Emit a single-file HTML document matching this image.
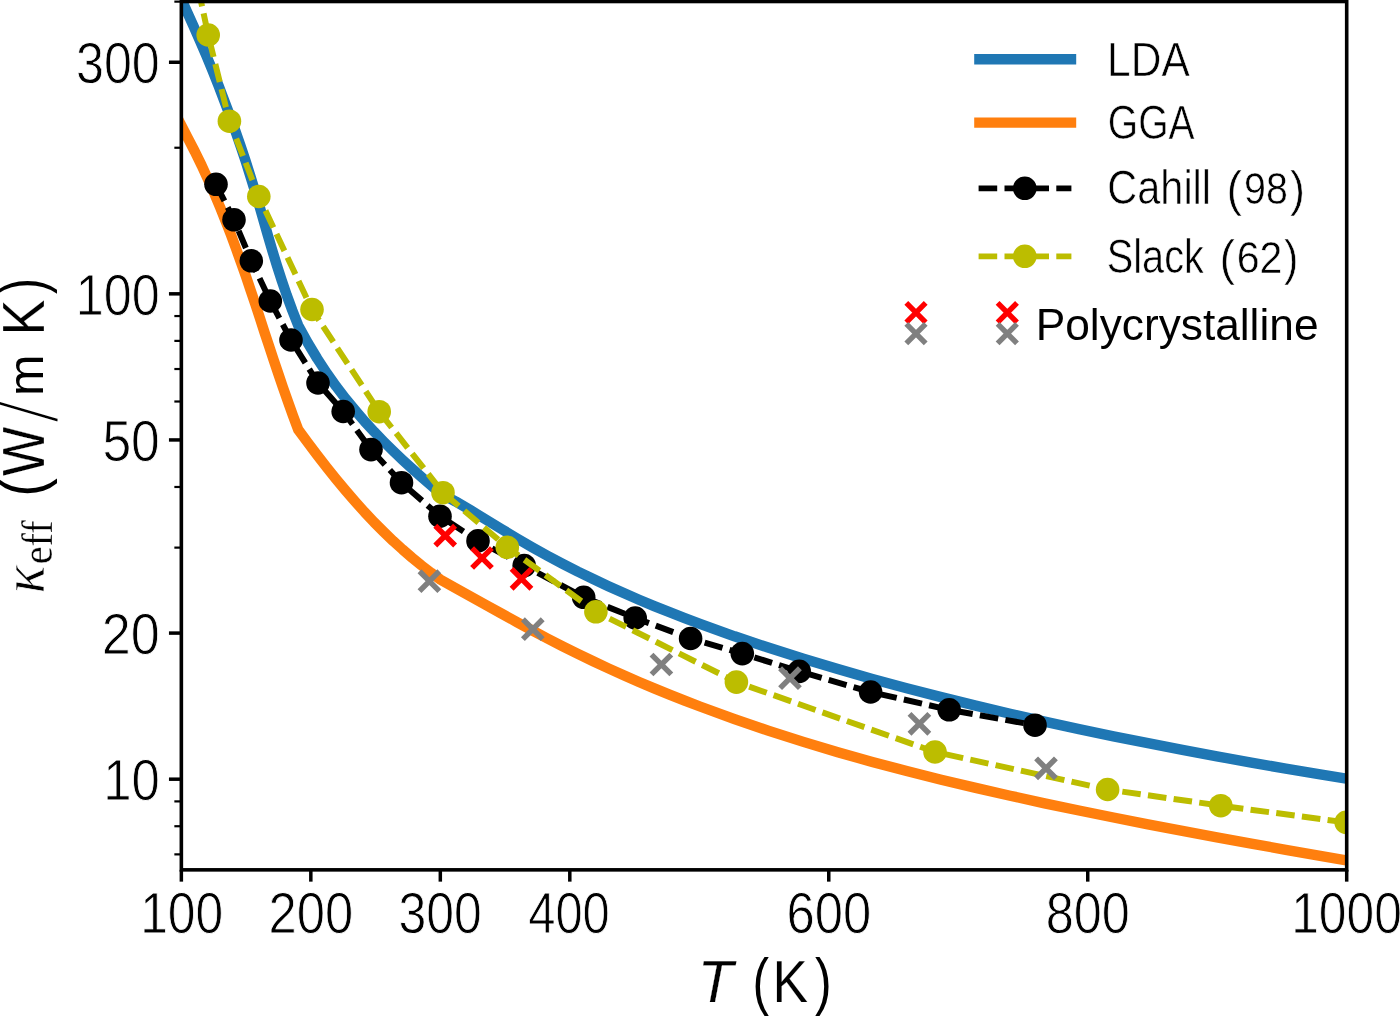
<!DOCTYPE html>
<html lang="en"><head><meta charset="utf-8"><title>Thermal conductivity vs temperature</title>
<style>html,body{margin:0;padding:0;background:#fff}body{width:1400px;height:1016px;overflow:hidden}svg{display:block;will-change:transform}text{font-family:"Liberation Sans",sans-serif;fill:#000}.ser{font-family:"Liberation Serif",serif}</style></head><body>
<svg width="1400" height="1016" viewBox="0 0 1400 1016">
<rect width="1400" height="1016" fill="#fff"/>
<defs><clipPath id="ax"><rect x="181.35" y="1.50" width="1165.35" height="868.35"/></clipPath></defs>
<g clip-path="url(#ax)" fill="none" stroke-linejoin="round">
<polyline points="173.7,-19.0 180.0,-4.0 186.6,10.9 193.4,25.9 200.0,40.9 206.4,55.8 212.6,70.8 218.6,85.8 224.3,100.8 229.9,115.7 235.3,130.7 240.5,145.7 245.5,160.7 250.2,175.6 254.8,190.6 259.3,205.6 263.6,220.6 267.9,235.5 272.3,250.5 276.9,265.5 281.7,280.4 286.8,295.4 292.3,310.4 298.2,325.4 307.7,342.7 317.2,358.5 326.7,373.0 336.2,386.4 345.7,398.8 355.2,410.4 364.6,421.4 374.1,431.7 383.6,441.5 393.1,450.9 402.6,459.9 412.1,468.6 421.6,477.1 431.1,485.4 440.6,493.4 455.8,501.6 471.1,510.6 486.4,519.9 501.6,529.1 516.9,538.4 532.1,547.2 547.4,555.7 562.7,563.8 577.9,571.6 593.2,579.0 608.4,586.2 623.7,593.1 639.0,599.7 654.2,606.1 669.5,612.2 684.7,618.2 700.0,623.9 734.5,636.3 768.9,647.8 803.4,658.7 837.8,669.1 872.3,678.9 906.7,688.2 941.2,697.1 975.7,705.6 1010.1,713.7 1044.6,721.6 1079.0,729.1 1113.5,736.3 1148.0,743.2 1182.4,749.9 1216.9,756.3 1251.3,762.6 1285.8,768.6 1320.2,774.4 1354.7,780.1" stroke="#1f77b4" stroke-width="10.4"/>
<polyline points="173.7,109.7 180.4,123.7 187.6,137.6 194.8,151.5 201.6,165.4 208.0,179.3 214.2,193.2 220.0,207.1 225.6,221.0 231.0,234.9 236.1,248.8 241.1,262.7 246.0,276.6 250.7,290.5 255.4,304.4 260.0,318.3 264.5,332.3 269.1,346.2 273.7,360.1 278.4,374.0 283.1,387.9 288.0,401.8 293.0,415.7 298.2,429.6 307.7,442.5 317.2,455.1 326.7,467.4 336.2,479.2 345.7,490.6 355.2,501.6 364.6,512.1 374.1,522.2 383.6,531.7 393.1,540.9 402.6,549.5 412.1,557.7 421.6,565.5 431.1,572.8 440.6,579.7 455.8,588.2 471.1,596.7 486.4,605.2 501.6,613.6 516.9,622.1 532.1,630.4 547.4,638.5 562.7,646.3 577.9,653.9 593.2,661.3 608.4,668.4 623.7,675.3 639.0,682.0 654.2,688.4 669.5,694.6 684.7,700.7 700.0,706.5 734.5,719.1 768.9,730.9 803.4,741.9 837.8,752.2 872.3,761.9 906.7,771.0 941.2,779.7 975.7,787.9 1010.1,795.7 1044.6,803.3 1079.0,810.5 1113.5,817.5 1148.0,824.3 1182.4,830.9 1216.9,837.4 1251.3,843.6 1285.8,849.8 1320.2,855.8 1354.7,861.8" stroke="#ff7f0e" stroke-width="10.4"/>
<polyline points="216.0,184.3 234.0,219.8 251.3,260.8 270.3,301.0 291.0,340.0 318.0,383.0 343.2,411.5 371.0,449.6 401.5,482.7 440.0,516.2 478.0,540.9 524.2,565.6 583.7,597.3 635.2,618.0 690.6,638.5 742.3,653.6 799.2,671.4 870.6,692.0 949.2,709.8 1035.0,725.2" stroke="#000" stroke-width="6.0" stroke-dasharray="18.6 7.3"/>
<circle cx="216.0" cy="184.3" r="11.8" fill="#000"/>
<circle cx="234.0" cy="219.8" r="11.8" fill="#000"/>
<circle cx="251.3" cy="260.8" r="11.8" fill="#000"/>
<circle cx="270.3" cy="301.0" r="11.8" fill="#000"/>
<circle cx="291.0" cy="340.0" r="11.8" fill="#000"/>
<circle cx="318.0" cy="383.0" r="11.8" fill="#000"/>
<circle cx="343.2" cy="411.5" r="11.8" fill="#000"/>
<circle cx="371.0" cy="449.6" r="11.8" fill="#000"/>
<circle cx="401.5" cy="482.7" r="11.8" fill="#000"/>
<circle cx="440.0" cy="516.2" r="11.8" fill="#000"/>
<circle cx="478.0" cy="540.9" r="11.8" fill="#000"/>
<circle cx="524.2" cy="565.6" r="11.8" fill="#000"/>
<circle cx="583.7" cy="597.3" r="11.8" fill="#000"/>
<circle cx="635.2" cy="618.0" r="11.8" fill="#000"/>
<circle cx="690.6" cy="638.5" r="11.8" fill="#000"/>
<circle cx="742.3" cy="653.6" r="11.8" fill="#000"/>
<circle cx="799.2" cy="671.4" r="11.8" fill="#000"/>
<circle cx="870.6" cy="692.0" r="11.8" fill="#000"/>
<circle cx="949.2" cy="709.8" r="11.8" fill="#000"/>
<circle cx="1035.0" cy="725.2" r="11.8" fill="#000"/>
<polyline points="196.0,-22.0 208.2,35.0 229.4,121.2 258.8,196.5 312.0,309.5 379.2,411.7 443.0,492.7 507.3,547.3 595.9,611.8 736.4,682.1 935.0,752.0 1107.6,789.5 1220.8,805.7 1346.2,822.4" stroke="#bcbd00" stroke-width="6.0" stroke-dasharray="18.6 7.3" stroke-dashoffset="15.5"/>
<circle cx="196.0" cy="-22.0" r="11.8" fill="#bcbd00"/>
<circle cx="208.2" cy="35.0" r="11.8" fill="#bcbd00"/>
<circle cx="229.4" cy="121.2" r="11.8" fill="#bcbd00"/>
<circle cx="258.8" cy="196.5" r="11.8" fill="#bcbd00"/>
<circle cx="312.0" cy="309.5" r="11.8" fill="#bcbd00"/>
<circle cx="379.2" cy="411.7" r="11.8" fill="#bcbd00"/>
<circle cx="443.0" cy="492.7" r="11.8" fill="#bcbd00"/>
<circle cx="507.3" cy="547.3" r="11.8" fill="#bcbd00"/>
<circle cx="595.9" cy="611.8" r="11.8" fill="#bcbd00"/>
<circle cx="736.4" cy="682.1" r="11.8" fill="#bcbd00"/>
<circle cx="935.0" cy="752.0" r="11.8" fill="#bcbd00"/>
<circle cx="1107.6" cy="789.5" r="11.8" fill="#bcbd00"/>
<circle cx="1220.8" cy="805.7" r="11.8" fill="#bcbd00"/>
<circle cx="1346.2" cy="822.4" r="11.8" fill="#bcbd00"/>
<path d="M435.3 525.7L455.1 545.5M435.3 545.5L455.1 525.7" stroke="#ff0000" stroke-width="5.5" fill="none"/>
<path d="M472.1 548.1L491.9 567.9M472.1 567.9L491.9 548.1" stroke="#ff0000" stroke-width="5.5" fill="none"/>
<path d="M511.6 568.9L531.4 588.7M511.6 588.7L531.4 568.9" stroke="#ff0000" stroke-width="5.5" fill="none"/>
<path d="M419.5 571.3L439.3 591.1M419.5 591.1L439.3 571.3" stroke="#808080" stroke-width="5.5" fill="none"/>
<path d="M522.9 619.3L542.7 639.1M522.9 639.1L542.7 619.3" stroke="#808080" stroke-width="5.5" fill="none"/>
<path d="M651.5 654.6L671.3 674.4M651.5 674.4L671.3 654.6" stroke="#808080" stroke-width="5.5" fill="none"/>
<path d="M780.1 668.3L799.9 688.1M780.1 688.1L799.9 668.3" stroke="#808080" stroke-width="5.5" fill="none"/>
<path d="M909.5 713.9L929.3 733.7M909.5 733.7L929.3 713.9" stroke="#808080" stroke-width="5.5" fill="none"/>
<path d="M1036.1 758.4L1055.9 778.2M1036.1 778.2L1055.9 758.4" stroke="#808080" stroke-width="5.5" fill="none"/>
</g>
<g stroke="#000" fill="none">
<line x1="181.35" y1="869.85" x2="181.35" y2="881.65" stroke-width="3.5"/>
<line x1="310.83" y1="869.85" x2="310.83" y2="881.65" stroke-width="3.5"/>
<line x1="440.32" y1="869.85" x2="440.32" y2="881.65" stroke-width="3.5"/>
<line x1="569.80" y1="869.85" x2="569.80" y2="881.65" stroke-width="3.5"/>
<line x1="828.77" y1="869.85" x2="828.77" y2="881.65" stroke-width="3.5"/>
<line x1="1087.73" y1="869.85" x2="1087.73" y2="881.65" stroke-width="3.5"/>
<line x1="1346.70" y1="869.85" x2="1346.70" y2="881.65" stroke-width="3.5"/>
<line x1="181.35" y1="62.27" x2="168.95" y2="62.27" stroke-width="3.5"/>
<line x1="181.35" y1="293.84" x2="168.95" y2="293.84" stroke-width="3.5"/>
<line x1="181.35" y1="439.94" x2="168.95" y2="439.94" stroke-width="3.5"/>
<line x1="181.35" y1="633.09" x2="168.95" y2="633.09" stroke-width="3.5"/>
<line x1="181.35" y1="779.19" x2="168.95" y2="779.19" stroke-width="3.5"/>
<line x1="181.35" y1="1.63" x2="174.35" y2="1.63" stroke-width="2.2"/>
<line x1="181.35" y1="147.74" x2="174.35" y2="147.74" stroke-width="2.2"/>
<line x1="181.35" y1="316.05" x2="174.35" y2="316.05" stroke-width="2.2"/>
<line x1="181.35" y1="340.88" x2="174.35" y2="340.88" stroke-width="2.2"/>
<line x1="181.35" y1="369.02" x2="174.35" y2="369.02" stroke-width="2.2"/>
<line x1="181.35" y1="401.51" x2="174.35" y2="401.51" stroke-width="2.2"/>
<line x1="181.35" y1="486.98" x2="174.35" y2="486.98" stroke-width="2.2"/>
<line x1="181.35" y1="547.62" x2="174.35" y2="547.62" stroke-width="2.2"/>
<line x1="181.35" y1="801.40" x2="174.35" y2="801.40" stroke-width="2.2"/>
<line x1="181.35" y1="826.23" x2="174.35" y2="826.23" stroke-width="2.2"/>
<line x1="181.35" y1="854.37" x2="174.35" y2="854.37" stroke-width="2.2"/>
<rect x="181.35" y="1.50" width="1165.35" height="868.35" stroke-width="3.6"/>
</g>
<g fill="none">
<line x1="974.2" y1="59.2" x2="1076.2" y2="59.2" stroke="#1f77b4" stroke-width="10.4"/>
<line x1="974.2" y1="122.6" x2="1076.2" y2="122.6" stroke="#ff7f0e" stroke-width="10.4"/>
<line x1="978.6" y1="188.3" x2="1071.4" y2="188.3" stroke="#000" stroke-width="5.7" stroke-dasharray="18.6 7.3"/>
<circle cx="1024.8" cy="188.3" r="11.8" fill="#000"/>
<line x1="978.6" y1="256.3" x2="1071.4" y2="256.3" stroke="#bcbd00" stroke-width="5.7" stroke-dasharray="18.6 7.3"/>
<circle cx="1024.8" cy="256.3" r="11.8" fill="#bcbd00"/>
<path d="M906.3 302.9L925.7 322.3M906.3 322.3L925.7 302.9" stroke="#ff0000" stroke-width="5.4" fill="none"/>
<path d="M997.6 302.9L1017.0 322.3M997.6 322.3L1017.0 302.9" stroke="#ff0000" stroke-width="5.4" fill="none"/>
<path d="M906.3 323.9L925.7 343.3M906.3 343.3L925.7 323.9" stroke="#808080" stroke-width="5.4" fill="none"/>
<path d="M997.6 323.9L1017.0 343.3M997.6 343.3L1017.0 323.9" stroke="#808080" stroke-width="5.4" fill="none"/>
</g>
<g>
<text><tspan x="140.16" y="933.25" font-size="58.29" textLength="83.09" lengthAdjust="spacingAndGlyphs" stroke="#fff" stroke-width="0.90">100</tspan></text>
<text><tspan x="268.61" y="933.25" font-size="58.29" textLength="84.67" lengthAdjust="spacingAndGlyphs" stroke="#fff" stroke-width="0.90">200</tspan></text>
<text><tspan x="398.55" y="933.25" font-size="58.29" textLength="83.30" lengthAdjust="spacingAndGlyphs" stroke="#fff" stroke-width="0.90">300</tspan></text>
<text><tspan x="528.27" y="933.25" font-size="58.29" textLength="81.54" lengthAdjust="spacingAndGlyphs" stroke="#fff" stroke-width="0.90">400</tspan></text>
<text><tspan x="786.61" y="933.25" font-size="58.29" textLength="84.67" lengthAdjust="spacingAndGlyphs" stroke="#fff" stroke-width="0.90">600</tspan></text>
<text><tspan x="1045.73" y="933.25" font-size="58.29" textLength="84.14" lengthAdjust="spacingAndGlyphs" stroke="#fff" stroke-width="0.90">800</tspan></text>
<text><tspan x="1291.17" y="933.25" font-size="58.29" textLength="110.68" lengthAdjust="spacingAndGlyphs" stroke="#fff" stroke-width="0.90">1000</tspan></text>
<text><tspan x="76.04" y="83.42" font-size="58.29" textLength="83.72" lengthAdjust="spacingAndGlyphs" stroke="#fff" stroke-width="0.90">300</tspan></text>
<text><tspan x="75.83" y="314.99" font-size="58.29" textLength="83.94" lengthAdjust="spacingAndGlyphs" stroke="#fff" stroke-width="0.90">100</tspan></text>
<text><tspan x="102.38" y="461.09" font-size="58.29" textLength="57.43" lengthAdjust="spacingAndGlyphs" stroke="#fff" stroke-width="0.90">50</tspan></text>
<text><tspan x="101.84" y="654.24" font-size="58.29" textLength="57.99" lengthAdjust="spacingAndGlyphs" stroke="#fff" stroke-width="0.90">20</tspan></text>
<text><tspan x="103.19" y="800.34" font-size="58.29" textLength="56.60" lengthAdjust="spacingAndGlyphs" stroke="#fff" stroke-width="0.90">10</tspan></text>
<text><tspan x="1107.10" y="75.70" font-size="47.86" textLength="82.67" lengthAdjust="spacingAndGlyphs" stroke="#fff" stroke-width="0.60">LDA</tspan></text>
<text><tspan x="1107.85" y="138.60" font-size="47.86" textLength="86.73" lengthAdjust="spacingAndGlyphs" stroke="#fff" stroke-width="0.60">GGA</tspan></text>
<text><tspan x="1107.22" y="204.00" font-size="47.86" textLength="103.86" lengthAdjust="spacingAndGlyphs" stroke="#fff" stroke-width="0.60">Cahill</tspan> <tspan x="1226.50" y="205.50" font-size="49.36" textLength="15.54" lengthAdjust="spacingAndGlyphs" stroke="#fff" stroke-width="0.60">(</tspan><tspan x="1244.07" y="203.95" font-size="43.71" textLength="43.80" lengthAdjust="spacingAndGlyphs" stroke="#fff" stroke-width="0.50">98</tspan><tspan x="1290.10" y="205.50" font-size="49.36" textLength="14.99" lengthAdjust="spacingAndGlyphs" stroke="#fff" stroke-width="0.60">)</tspan></text>
<text><tspan x="1106.81" y="273.10" font-size="47.86" textLength="96.99" lengthAdjust="spacingAndGlyphs" stroke="#fff" stroke-width="0.60">Slack</tspan> <tspan x="1219.60" y="274.60" font-size="49.36" textLength="15.54" lengthAdjust="spacingAndGlyphs" stroke="#fff" stroke-width="0.60">(</tspan><tspan x="1236.70" y="273.05" font-size="43.71" textLength="45.65" lengthAdjust="spacingAndGlyphs" stroke="#fff" stroke-width="0.50">62</tspan><tspan x="1284.10" y="274.60" font-size="49.36" textLength="14.39" lengthAdjust="spacingAndGlyphs" stroke="#fff" stroke-width="0.60">)</tspan></text>
<text><tspan x="1035.76" y="340.20" font-size="44.30" textLength="282.74" lengthAdjust="spacingAndGlyphs">Polycrystalline</tspan></text>
<text><tspan x="697.63" y="1002.12" font-size="59.96" textLength="35.46" lengthAdjust="spacingAndGlyphs" font-style="italic" stroke="#fff" stroke-width="0.25">T</tspan> <tspan x="752.62" y="1002.60" font-size="63.00" textLength="16.53" lengthAdjust="spacingAndGlyphs">(</tspan><tspan x="772.62" y="1002.12" font-size="59.96" textLength="35.48" lengthAdjust="spacingAndGlyphs" stroke="#fff" stroke-width="0.25">K</tspan><tspan x="815.00" y="1002.60" font-size="63.00" textLength="16.65" lengthAdjust="spacingAndGlyphs">)</tspan></text>
</g>
<text transform="translate(43.4,594) rotate(-90)"><tspan x="0.44" y="0.40" font-size="61.14" textLength="28.08" lengthAdjust="spacingAndGlyphs" class="ser" font-style="italic" stroke="#fff" stroke-width="0.80">κ</tspan><tspan x="29.64" y="8.75" font-size="43.93" textLength="43.93" lengthAdjust="spacingAndGlyphs" class="ser" stroke="#fff" stroke-width="0.30">eff</tspan> <tspan x="97.17" y="0.60" font-size="63.00" textLength="18.50" lengthAdjust="spacingAndGlyphs">(</tspan><tspan x="117.88" y="0.12" font-size="59.96" textLength="49.13" lengthAdjust="spacingAndGlyphs" stroke="#fff" stroke-width="0.25">W</tspan><tspan x="169.65" y="15.55" font-size="82.57" textLength="25.00" lengthAdjust="spacingAndGlyphs" stroke="#fff" stroke-width="3.90">/</tspan><tspan x="197.91" y="0.00" font-size="50.00" textLength="41.53" lengthAdjust="spacingAndGlyphs">m</tspan> <tspan x="258.46" y="0.12" font-size="59.96" textLength="35.94" lengthAdjust="spacingAndGlyphs" stroke="#fff" stroke-width="0.25">K</tspan><tspan x="300.10" y="0.60" font-size="63.00" textLength="15.82" lengthAdjust="spacingAndGlyphs">)</tspan></text>
</svg></body></html>
